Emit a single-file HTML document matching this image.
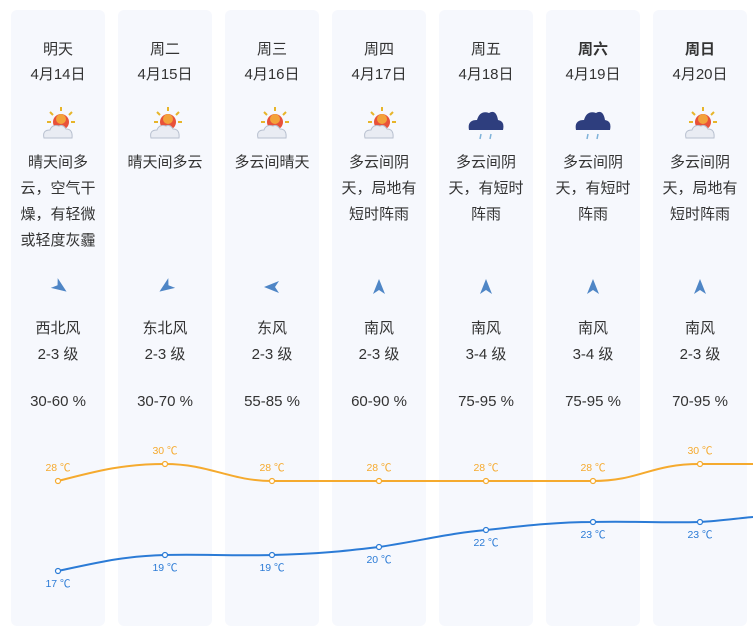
<!DOCTYPE html>
<html><head><meta charset="utf-8"><style>
body{margin:0;width:753px;height:634px;background:#fff;overflow:hidden;position:relative;font-family:"Liberation Sans","Noto Sans CJK SC",sans-serif;color:#333}
.col{position:absolute;top:10px;width:94px;height:616px;background:#f6f8fd;border-radius:6px}
.t{position:absolute;left:0;width:94px;text-align:center;font-size:15px;line-height:26px}
svg{position:absolute;left:0;top:0}
</style></head><body>
<svg width="753" height="634" style="z-index:0">
<defs>
<g id="sun"><g stroke="#e7b52a" stroke-width="2"><line x1="0" y1="-15" x2="0" y2="-11"/><line x1="-11" y1="-10" x2="-8" y2="-7"/><line x1="11" y1="-10" x2="8" y2="-7"/><line x1="14" y1="0" x2="10" y2="0"/><line x1="-14" y1="0" x2="-10" y2="0"/></g><circle r="8" fill="#e8523a"/><circle r="5" cy="-3" fill="#f3a23a"/></g>
<g id="pc"><use href="#sun" x="3" y="-4"/><path d="M-14 12 Q-16 4 -8 4 Q-6 -2 1 0 Q5 -2 8 3 Q15 3 14 12 Z" fill="#e9ecf3" stroke="#b8c0cf" stroke-width="1"/></g>
<g id="rain"><path d="M-17 5 Q-19 -5 -9 -5 Q-6 -15 3 -12 Q10 -16 12 -5 Q19 -4 17 5 Z" fill="#2e3e7e"/><g stroke="#7fb3d9" stroke-width="1.5"><line x1="-5" y1="9" x2="-6" y2="14"/><line x1="5" y1="9" x2="4" y2="14"/></g></g>
<path id="ar" d="M0 -8 L6 7 L0 3 L-6 7 Z" fill="#4f86c6"/>
</defs>
</svg>
<div class="col" style="left:11px"></div><div class="col" style="left:118px"></div><div class="col" style="left:225px"></div><div class="col" style="left:332px"></div><div class="col" style="left:439px"></div><div class="col" style="left:546px"></div><div class="col" style="left:653px"></div>

<div style="position:absolute;left:11px;top:2px;width:94px"><div class="t" style="top:35px">明天</div><div class="t" style="top:60px">4月14日</div><div class="t" style="top:148px">晴天间多<br>云，空气干<br>燥，有轻微<br>或轻度灰霾</div><div class="t" style="top:314px">西北风<br>2-3 级</div><div class="t" style="top:387px">30-60 %</div></div>
<div style="position:absolute;left:118px;top:2px;width:94px"><div class="t" style="top:35px">周二</div><div class="t" style="top:60px">4月15日</div><div class="t" style="top:148px">晴天间多云</div><div class="t" style="top:314px">东北风<br>2-3 级</div><div class="t" style="top:387px">30-70 %</div></div>
<div style="position:absolute;left:225px;top:2px;width:94px"><div class="t" style="top:35px">周三</div><div class="t" style="top:60px">4月16日</div><div class="t" style="top:148px">多云间晴天</div><div class="t" style="top:314px">东风<br>2-3 级</div><div class="t" style="top:387px">55-85 %</div></div>
<div style="position:absolute;left:332px;top:2px;width:94px"><div class="t" style="top:35px">周四</div><div class="t" style="top:60px">4月17日</div><div class="t" style="top:148px">多云间阴<br>天，局地有<br>短时阵雨</div><div class="t" style="top:314px">南风<br>2-3 级</div><div class="t" style="top:387px">60-90 %</div></div>
<div style="position:absolute;left:439px;top:2px;width:94px"><div class="t" style="top:35px">周五</div><div class="t" style="top:60px">4月18日</div><div class="t" style="top:148px">多云间阴<br>天，有短时<br>阵雨</div><div class="t" style="top:314px">南风<br>3-4 级</div><div class="t" style="top:387px">75-95 %</div></div>
<div style="position:absolute;left:546px;top:2px;width:94px"><div class="t" style="top:35px;font-weight:bold">周六</div><div class="t" style="top:60px">4月19日</div><div class="t" style="top:148px">多云间阴<br>天，有短时<br>阵雨</div><div class="t" style="top:314px">南风<br>3-4 级</div><div class="t" style="top:387px">75-95 %</div></div>
<div style="position:absolute;left:653px;top:2px;width:94px"><div class="t" style="top:35px;font-weight:bold">周日</div><div class="t" style="top:60px">4月20日</div><div class="t" style="top:148px">多云间阴<br>天，局地有<br>短时阵雨</div><div class="t" style="top:314px">南风<br>2-3 级</div><div class="t" style="top:387px">70-95 %</div></div>

<svg width="753" height="634">
<use href="#pc" x="58" y="126"/><use href="#pc" x="165" y="126"/><use href="#pc" x="272" y="126"/><use href="#pc" x="379" y="126"/>
<use href="#rain" x="486" y="125"/><use href="#rain" x="593" y="125"/><use href="#pc" x="700" y="126"/>
<use href="#ar" transform="translate(60,287) rotate(125)"/>
<use href="#ar" transform="translate(166,287) rotate(235)"/>
<use href="#ar" transform="translate(272,287) rotate(270)"/>
<use href="#ar" transform="translate(379,287)"/><use href="#ar" transform="translate(486,287)"/><use href="#ar" transform="translate(593,287)"/><use href="#ar" transform="translate(700,287)"/>
<path d="M58 481 C100 470 125 464 165 464 C210 464 230 481 272 481 L593 481 C640 481 650 464 700 464 L753 464" fill="none" stroke="#f5aa2e" stroke-width="2"/>
<path d="M58 571 C100 562 125 556 165 555 C200 554 230 556 272 555 C320 554 345 551 379 547 C420 541 450 533 486 530 C530 525 560 522 593 522 C630 521 660 523 700 522 C720 521 740 518 753 517" fill="none" stroke="#2b7bd6" stroke-width="2"/>
<g fill="#fff" stroke="#f5aa2e" stroke-width="1.2"><circle cx="58" cy="481" r="2.5"/><circle cx="165" cy="464" r="2.5"/><circle cx="272" cy="481" r="2.5"/><circle cx="379" cy="481" r="2.5"/><circle cx="486" cy="481" r="2.5"/><circle cx="593" cy="481" r="2.5"/><circle cx="700" cy="464" r="2.5"/></g>
<g fill="#fff" stroke="#2b7bd6" stroke-width="1.2"><circle cx="58" cy="571" r="2.5"/><circle cx="165" cy="555" r="2.5"/><circle cx="272" cy="555" r="2.5"/><circle cx="379" cy="547" r="2.5"/><circle cx="486" cy="530" r="2.5"/><circle cx="593" cy="522" r="2.5"/><circle cx="700" cy="522" r="2.5"/></g>
<g font-size="10.5" fill="#f5aa2e" text-anchor="middle" font-family="Liberation Sans, Noto Sans CJK SC, sans-serif"><text x="58" y="471">28 ℃</text><text x="165" y="454">30 ℃</text><text x="272" y="471">28 ℃</text><text x="379" y="471">28 ℃</text><text x="486" y="471">28 ℃</text><text x="593" y="471">28 ℃</text><text x="700" y="454">30 ℃</text></g>
<g font-size="10.5" fill="#2b7bd6" text-anchor="middle" font-family="Liberation Sans, Noto Sans CJK SC, sans-serif"><text x="58" y="587">17 ℃</text><text x="165" y="571">19 ℃</text><text x="272" y="571">19 ℃</text><text x="379" y="563">20 ℃</text><text x="486" y="546">22 ℃</text><text x="593" y="538">23 ℃</text><text x="700" y="538">23 ℃</text></g>
</svg>
</body></html>
